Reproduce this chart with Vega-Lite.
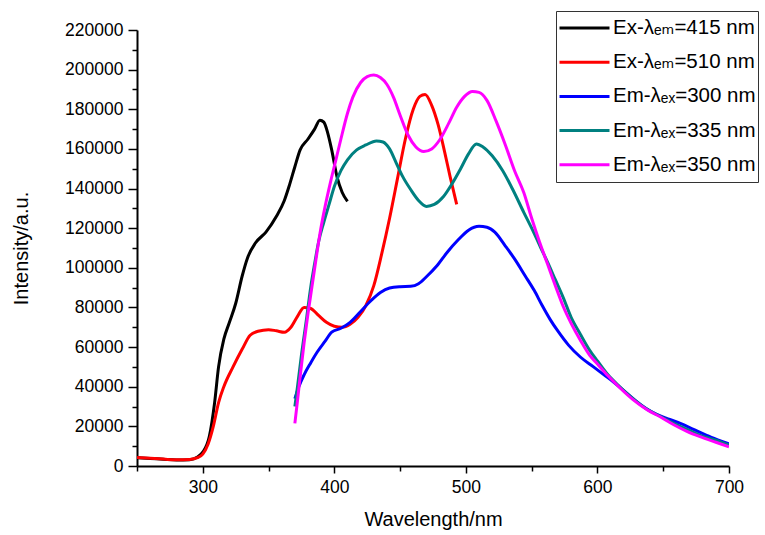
{
  "$schema": "https://vega.github.io/schema/vega-lite/v6.json",
  "width": 592,
  "height": 436,
  "autosize": {"type": "none"},
  "padding": {"left": 137, "top": 30, "right": 36, "bottom": 69},
  "background": "white",
  "config": {
    "view": {"stroke": null},
    "font": "Liberation Sans, Arial, DejaVu Sans, sans-serif"
  },
  "datasets": {
    "d": [
      {"s": "Ex-λₑₘ=415 nm", "w": 250, "v": 4200}, {"s": "Ex-λₑₘ=415 nm", "w": 260, "v": 3800}, {"s": "Ex-λₑₘ=415 nm", "w": 270, "v": 3400}, {"s": "Ex-λₑₘ=415 nm", "w": 280, "v": 3000}, {"s": "Ex-λₑₘ=415 nm", "w": 290, "v": 3200}, {"s": "Ex-λₑₘ=415 nm", "w": 296, "v": 4500}, {"s": "Ex-λₑₘ=415 nm", "w": 300, "v": 7000}, {"s": "Ex-λₑₘ=415 nm", "w": 305, "v": 15000}, {"s": "Ex-λₑₘ=415 nm", "w": 309, "v": 32000}, {"s": "Ex-λₑₘ=415 nm", "w": 312, "v": 50000}, {"s": "Ex-λₑₘ=415 nm", "w": 316, "v": 64000}, {"s": "Ex-λₑₘ=415 nm", "w": 320, "v": 72000}, {"s": "Ex-λₑₘ=415 nm", "w": 325, "v": 82000}, {"s": "Ex-λₑₘ=415 nm", "w": 330, "v": 96000}, {"s": "Ex-λₑₘ=415 nm", "w": 334, "v": 105000}, {"s": "Ex-λₑₘ=415 nm", "w": 340, "v": 112500}, {"s": "Ex-λₑₘ=415 nm", "w": 348, "v": 118000}, {"s": "Ex-λₑₘ=415 nm", "w": 356, "v": 126000}, {"s": "Ex-λₑₘ=415 nm", "w": 362, "v": 134000}, {"s": "Ex-λₑₘ=415 nm", "w": 366, "v": 142000}, {"s": "Ex-λₑₘ=415 nm", "w": 370, "v": 151000}, {"s": "Ex-λₑₘ=415 nm", "w": 374, "v": 159500}, {"s": "Ex-λₑₘ=415 nm", "w": 380, "v": 165000}, {"s": "Ex-λₑₘ=415 nm", "w": 385, "v": 170000}, {"s": "Ex-λₑₘ=415 nm", "w": 389, "v": 174500}, {"s": "Ex-λₑₘ=415 nm", "w": 392, "v": 173500}, {"s": "Ex-λₑₘ=415 nm", "w": 395, "v": 168000}, {"s": "Ex-λₑₘ=415 nm", "w": 398, "v": 159500}, {"s": "Ex-λₑₘ=415 nm", "w": 402, "v": 146000}, {"s": "Ex-λₑₘ=415 nm", "w": 406, "v": 138000}, {"s": "Ex-λₑₘ=415 nm", "w": 410, "v": 133500},

      {"s": "Ex-λₑₘ=510 nm", "w": 250, "v": 4300}, {"s": "Ex-λₑₘ=510 nm", "w": 260, "v": 3900}, {"s": "Ex-λₑₘ=510 nm", "w": 270, "v": 3500}, {"s": "Ex-λₑₘ=510 nm", "w": 280, "v": 3100}, {"s": "Ex-λₑₘ=510 nm", "w": 290, "v": 3300}, {"s": "Ex-λₑₘ=510 nm", "w": 296, "v": 4200}, {"s": "Ex-λₑₘ=510 nm", "w": 300, "v": 6000}, {"s": "Ex-λₑₘ=510 nm", "w": 304, "v": 11000}, {"s": "Ex-λₑₘ=510 nm", "w": 308, "v": 20000}, {"s": "Ex-λₑₘ=510 nm", "w": 312, "v": 32000}, {"s": "Ex-λₑₘ=510 nm", "w": 316, "v": 40000}, {"s": "Ex-λₑₘ=510 nm", "w": 323, "v": 50000}, {"s": "Ex-λₑₘ=510 nm", "w": 330, "v": 59000}, {"s": "Ex-λₑₘ=510 nm", "w": 336, "v": 66000}, {"s": "Ex-λₑₘ=510 nm", "w": 342, "v": 68000}, {"s": "Ex-λₑₘ=510 nm", "w": 350, "v": 68800}, {"s": "Ex-λₑₘ=510 nm", "w": 356, "v": 68200}, {"s": "Ex-λₑₘ=510 nm", "w": 362, "v": 67500}, {"s": "Ex-λₑₘ=510 nm", "w": 367, "v": 70000}, {"s": "Ex-λₑₘ=510 nm", "w": 372, "v": 75500}, {"s": "Ex-λₑₘ=510 nm", "w": 377, "v": 80000}, {"s": "Ex-λₑₘ=510 nm", "w": 382, "v": 79500}, {"s": "Ex-λₑₘ=510 nm", "w": 388, "v": 76000}, {"s": "Ex-λₑₘ=510 nm", "w": 394, "v": 72500}, {"s": "Ex-λₑₘ=510 nm", "w": 400, "v": 70500}, {"s": "Ex-λₑₘ=510 nm", "w": 406, "v": 70000}, {"s": "Ex-λₑₘ=510 nm", "w": 412, "v": 71500}, {"s": "Ex-λₑₘ=510 nm", "w": 418, "v": 75000}, {"s": "Ex-λₑₘ=510 nm", "w": 424, "v": 81000}, {"s": "Ex-λₑₘ=510 nm", "w": 430, "v": 91000}, {"s": "Ex-λₑₘ=510 nm", "w": 436, "v": 107000}, {"s": "Ex-λₑₘ=510 nm", "w": 442, "v": 125000}, {"s": "Ex-λₑₘ=510 nm", "w": 448, "v": 145000}, {"s": "Ex-λₑₘ=510 nm", "w": 454, "v": 165000}, {"s": "Ex-λₑₘ=510 nm", "w": 460, "v": 180000}, {"s": "Ex-λₑₘ=510 nm", "w": 465, "v": 186500}, {"s": "Ex-λₑₘ=510 nm", "w": 469, "v": 187500}, {"s": "Ex-λₑₘ=510 nm", "w": 474, "v": 182000}, {"s": "Ex-λₑₘ=510 nm", "w": 479, "v": 172000}, {"s": "Ex-λₑₘ=510 nm", "w": 484, "v": 158000}, {"s": "Ex-λₑₘ=510 nm", "w": 488, "v": 146000}, {"s": "Ex-λₑₘ=510 nm", "w": 493, "v": 132000},

      {"s": "Em-λₑₓ=300 nm", "w": 370, "v": 34000}, {"s": "Em-λₑₓ=300 nm", "w": 373, "v": 40000}, {"s": "Em-λₑₓ=300 nm", "w": 377, "v": 46000}, {"s": "Em-λₑₓ=300 nm", "w": 382, "v": 52000}, {"s": "Em-λₑₓ=300 nm", "w": 387, "v": 57500}, {"s": "Em-λₑₓ=300 nm", "w": 393, "v": 63000}, {"s": "Em-λₑₓ=300 nm", "w": 398, "v": 67500}, {"s": "Em-λₑₓ=300 nm", "w": 405, "v": 69500}, {"s": "Em-λₑₓ=300 nm", "w": 412, "v": 72500}, {"s": "Em-λₑₓ=300 nm", "w": 420, "v": 78000}, {"s": "Em-λₑₓ=300 nm", "w": 428, "v": 83500}, {"s": "Em-λₑₓ=300 nm", "w": 435, "v": 87500}, {"s": "Em-λₑₓ=300 nm", "w": 442, "v": 89800}, {"s": "Em-λₑₓ=300 nm", "w": 450, "v": 90500}, {"s": "Em-λₑₓ=300 nm", "w": 458, "v": 90700}, {"s": "Em-λₑₓ=300 nm", "w": 464, "v": 92000}, {"s": "Em-λₑₓ=300 nm", "w": 470, "v": 95500}, {"s": "Em-λₑₓ=300 nm", "w": 478, "v": 101000}, {"s": "Em-λₑₓ=300 nm", "w": 486, "v": 108000}, {"s": "Em-λₑₓ=300 nm", "w": 494, "v": 114000}, {"s": "Em-λₑₓ=300 nm", "w": 502, "v": 119000}, {"s": "Em-λₑₓ=300 nm", "w": 510, "v": 121000}, {"s": "Em-λₑₓ=300 nm", "w": 516, "v": 120500}, {"s": "Em-λₑₓ=300 nm", "w": 522, "v": 118000}, {"s": "Em-λₑₓ=300 nm", "w": 530, "v": 111000}, {"s": "Em-λₑₓ=300 nm", "w": 537, "v": 104500}, {"s": "Em-λₑₓ=300 nm", "w": 545, "v": 96000}, {"s": "Em-λₑₓ=300 nm", "w": 552, "v": 88500}, {"s": "Em-λₑₓ=300 nm", "w": 558, "v": 81000}, {"s": "Em-λₑₓ=300 nm", "w": 564, "v": 74000}, {"s": "Em-λₑₓ=300 nm", "w": 570, "v": 68000}, {"s": "Em-λₑₓ=300 nm", "w": 578, "v": 61000}, {"s": "Em-λₑₓ=300 nm", "w": 587, "v": 55000}, {"s": "Em-λₑₓ=300 nm", "w": 597, "v": 50000}, {"s": "Em-λₑₓ=300 nm", "w": 605, "v": 46000}, {"s": "Em-λₑₓ=300 nm", "w": 612, "v": 42500}, {"s": "Em-λₑₓ=300 nm", "w": 620, "v": 38000}, {"s": "Em-λₑₓ=300 nm", "w": 628, "v": 33500}, {"s": "Em-λₑₓ=300 nm", "w": 637, "v": 29000}, {"s": "Em-λₑₓ=300 nm", "w": 645, "v": 26000}, {"s": "Em-λₑₓ=300 nm", "w": 655, "v": 23500}, {"s": "Em-λₑₓ=300 nm", "w": 663, "v": 21500}, {"s": "Em-λₑₓ=300 nm", "w": 673, "v": 18500}, {"s": "Em-λₑₓ=300 nm", "w": 683, "v": 15500}, {"s": "Em-λₑₓ=300 nm", "w": 692, "v": 13000}, {"s": "Em-λₑₓ=300 nm", "w": 700, "v": 11200},

      {"s": "Em-λₑₓ=335 nm", "w": 370, "v": 30000}, {"s": "Em-λₑₓ=335 nm", "w": 372, "v": 40000}, {"s": "Em-λₑₓ=335 nm", "w": 375, "v": 56000}, {"s": "Em-λₑₓ=335 nm", "w": 379, "v": 75000}, {"s": "Em-λₑₓ=335 nm", "w": 382, "v": 90000}, {"s": "Em-λₑₓ=335 nm", "w": 385, "v": 102000}, {"s": "Em-λₑₓ=335 nm", "w": 388, "v": 113000}, {"s": "Em-λₑₓ=335 nm", "w": 392, "v": 123000}, {"s": "Em-λₑₓ=335 nm", "w": 396, "v": 132000}, {"s": "Em-λₑₓ=335 nm", "w": 400, "v": 141000}, {"s": "Em-λₑₓ=335 nm", "w": 405, "v": 149000}, {"s": "Em-λₑₓ=335 nm", "w": 410, "v": 154500}, {"s": "Em-λₑₓ=335 nm", "w": 417, "v": 159500}, {"s": "Em-λₑₓ=335 nm", "w": 424, "v": 162000}, {"s": "Em-λₑₓ=335 nm", "w": 432, "v": 164000}, {"s": "Em-λₑₓ=335 nm", "w": 437, "v": 163500}, {"s": "Em-λₑₓ=335 nm", "w": 442, "v": 160000}, {"s": "Em-λₑₓ=335 nm", "w": 447, "v": 153000}, {"s": "Em-λₑₓ=335 nm", "w": 452, "v": 146000}, {"s": "Em-λₑₓ=335 nm", "w": 458, "v": 139500}, {"s": "Em-λₑₓ=335 nm", "w": 464, "v": 134000}, {"s": "Em-λₑₓ=335 nm", "w": 470, "v": 131000}, {"s": "Em-λₑₓ=335 nm", "w": 476, "v": 132000}, {"s": "Em-λₑₓ=335 nm", "w": 483, "v": 136000}, {"s": "Em-λₑₓ=335 nm", "w": 490, "v": 143000}, {"s": "Em-λₑₓ=335 nm", "w": 496, "v": 150000}, {"s": "Em-λₑₓ=335 nm", "w": 502, "v": 157500}, {"s": "Em-λₑₓ=335 nm", "w": 508, "v": 162500}, {"s": "Em-λₑₓ=335 nm", "w": 513, "v": 161000}, {"s": "Em-λₑₓ=335 nm", "w": 520, "v": 156500}, {"s": "Em-λₑₓ=335 nm", "w": 528, "v": 149000}, {"s": "Em-λₑₓ=335 nm", "w": 536, "v": 139000}, {"s": "Em-λₑₓ=335 nm", "w": 544, "v": 128000}, {"s": "Em-λₑₓ=335 nm", "w": 550, "v": 120000}, {"s": "Em-λₑₓ=335 nm", "w": 557, "v": 110000}, {"s": "Em-λₑₓ=335 nm", "w": 562, "v": 103000}, {"s": "Em-λₑₓ=335 nm", "w": 568, "v": 94000}, {"s": "Em-λₑₓ=335 nm", "w": 574, "v": 85000}, {"s": "Em-λₑₓ=335 nm", "w": 580, "v": 75000}, {"s": "Em-λₑₓ=335 nm", "w": 587, "v": 66500}, {"s": "Em-λₑₓ=335 nm", "w": 594, "v": 58500}, {"s": "Em-λₑₓ=335 nm", "w": 600, "v": 53000}, {"s": "Em-λₑₓ=335 nm", "w": 608, "v": 46000}, {"s": "Em-λₑₓ=335 nm", "w": 617, "v": 40000}, {"s": "Em-λₑₓ=335 nm", "w": 627, "v": 34000}, {"s": "Em-λₑₓ=335 nm", "w": 638, "v": 28500}, {"s": "Em-λₑₓ=335 nm", "w": 648, "v": 25000}, {"s": "Em-λₑₓ=335 nm", "w": 658, "v": 21500}, {"s": "Em-λₑₓ=335 nm", "w": 668, "v": 18500}, {"s": "Em-λₑₓ=335 nm", "w": 678, "v": 15500}, {"s": "Em-λₑₓ=335 nm", "w": 690, "v": 13000}, {"s": "Em-λₑₓ=335 nm", "w": 700, "v": 10500},

      {"s": "Em-λₑₓ=350 nm", "w": 370, "v": 21500}, {"s": "Em-λₑₓ=350 nm", "w": 372, "v": 33000}, {"s": "Em-λₑₓ=350 nm", "w": 374, "v": 45000}, {"s": "Em-λₑₓ=350 nm", "w": 377, "v": 62000}, {"s": "Em-λₑₓ=350 nm", "w": 380, "v": 77000}, {"s": "Em-λₑₓ=350 nm", "w": 383, "v": 90500}, {"s": "Em-λₑₓ=350 nm", "w": 386, "v": 104000}, {"s": "Em-λₑₓ=350 nm", "w": 389, "v": 117000}, {"s": "Em-λₑₓ=350 nm", "w": 393, "v": 131000}, {"s": "Em-λₑₓ=350 nm", "w": 397, "v": 143000}, {"s": "Em-λₑₓ=350 nm", "w": 401, "v": 154000}, {"s": "Em-λₑₓ=350 nm", "w": 405, "v": 165000}, {"s": "Em-λₑₓ=350 nm", "w": 410, "v": 178000}, {"s": "Em-λₑₓ=350 nm", "w": 414, "v": 186000}, {"s": "Em-λₑₓ=350 nm", "w": 420, "v": 193500}, {"s": "Em-λₑₓ=350 nm", "w": 425, "v": 196500}, {"s": "Em-λₑₓ=350 nm", "w": 430, "v": 197300}, {"s": "Em-λₑₓ=350 nm", "w": 435, "v": 196000}, {"s": "Em-λₑₓ=350 nm", "w": 440, "v": 192500}, {"s": "Em-λₑₓ=350 nm", "w": 445, "v": 186000}, {"s": "Em-λₑₓ=350 nm", "w": 450, "v": 177000}, {"s": "Em-λₑₓ=350 nm", "w": 456, "v": 167000}, {"s": "Em-λₑₓ=350 nm", "w": 462, "v": 161000}, {"s": "Em-λₑₓ=350 nm", "w": 468, "v": 158700}, {"s": "Em-λₑₓ=350 nm", "w": 474, "v": 160000}, {"s": "Em-λₑₓ=350 nm", "w": 480, "v": 164500}, {"s": "Em-λₑₓ=350 nm", "w": 487, "v": 173000}, {"s": "Em-λₑₓ=350 nm", "w": 493, "v": 181000}, {"s": "Em-λₑₓ=350 nm", "w": 499, "v": 186500}, {"s": "Em-λₑₓ=350 nm", "w": 505, "v": 189000}, {"s": "Em-λₑₓ=350 nm", "w": 510, "v": 188500}, {"s": "Em-λₑₓ=350 nm", "w": 516, "v": 184500}, {"s": "Em-λₑₓ=350 nm", "w": 523, "v": 174000}, {"s": "Em-λₑₓ=350 nm", "w": 530, "v": 162000}, {"s": "Em-λₑₓ=350 nm", "w": 537, "v": 149000}, {"s": "Em-λₑₓ=350 nm", "w": 544, "v": 138000}, {"s": "Em-λₑₓ=350 nm", "w": 550, "v": 125000}, {"s": "Em-λₑₓ=350 nm", "w": 556, "v": 113000}, {"s": "Em-λₑₓ=350 nm", "w": 562, "v": 102000}, {"s": "Em-λₑₓ=350 nm", "w": 568, "v": 91000}, {"s": "Em-λₑₓ=350 nm", "w": 574, "v": 80500}, {"s": "Em-λₑₓ=350 nm", "w": 580, "v": 72000}, {"s": "Em-λₑₓ=350 nm", "w": 587, "v": 63500}, {"s": "Em-λₑₓ=350 nm", "w": 594, "v": 56000}, {"s": "Em-λₑₓ=350 nm", "w": 600, "v": 51500}, {"s": "Em-λₑₓ=350 nm", "w": 608, "v": 45500}, {"s": "Em-λₑₓ=350 nm", "w": 617, "v": 39500}, {"s": "Em-λₑₓ=350 nm", "w": 627, "v": 33500}, {"s": "Em-λₑₓ=350 nm", "w": 638, "v": 28300}, {"s": "Em-λₑₓ=350 nm", "w": 648, "v": 24700}, {"s": "Em-λₑₓ=350 nm", "w": 658, "v": 20800}, {"s": "Em-λₑₓ=350 nm", "w": 668, "v": 17500}, {"s": "Em-λₑₓ=350 nm", "w": 678, "v": 14800}, {"s": "Em-λₑₓ=350 nm", "w": 690, "v": 12000}, {"s": "Em-λₑₓ=350 nm", "w": 700, "v": 9700}
    ]
  },
  "data": {"name": "d"},
  "mark": {"type": "line", "strokeWidth": 3, "interpolate": "monotone", "clip": true},
  "encoding": {
    "x": {
      "field": "w", "type": "quantitative",
      "scale": {"domain": [250, 700], "nice": false, "zero": false},
      "axis": {
        "title": "Wavelength/nm",
        "values": [250, 300, 350, 400, 450, 500, 550, 600, 650, 700],
        "format": "d",
        "labelExpr": "datum.value % 100 === 0 ? datum.label : ''",
        "labelOverlap": false, "labelFlush": false,
        "grid": false,
        "domainColor": "black", "domainWidth": 2,
        "tickColor": "black", "tickWidth": 1.5,
        "tickSize": {"condition": {"test": "datum.value % 100 === 0", "value": 7}, "value": 5},
        "labelFontSize": 17.5, "labelColor": "black", "labelPadding": 5,
        "titleFontSize": 20, "titleFontWeight": "normal", "titleColor": "black", "titlePadding": 14
      }
    },
    "y": {
      "field": "v", "type": "quantitative",
      "scale": {"domain": [0, 220000], "nice": false},
      "axis": {
        "title": "Intensity/a.u.",
        "values": [0, 10000, 20000, 30000, 40000, 50000, 60000, 70000, 80000, 90000, 100000, 110000, 120000, 130000, 140000, 150000, 160000, 170000, 180000, 190000, 200000, 210000, 220000],
        "format": "d",
        "labelExpr": "datum.value % 20000 === 0 ? datum.label : ''",
        "labelOverlap": false, "labelFlush": false,
        "grid": false,
        "domainColor": "black", "domainWidth": 2,
        "tickColor": "black", "tickWidth": 1.5,
        "tickSize": {"condition": {"test": "datum.value % 20000 === 0", "value": 9}, "value": 5},
        "labelFontSize": 17.5, "labelColor": "black", "labelPadding": 5,
        "titleFontSize": 20, "titleFontWeight": "normal", "titleColor": "black", "titlePadding": 33
      }
    },
    "color": {
      "field": "s", "type": "nominal",
      "scale": {
        "domain": ["Ex-λₑₘ=415 nm", "Ex-λₑₘ=510 nm", "Em-λₑₓ=300 nm", "Em-λₑₓ=335 nm", "Em-λₑₓ=350 nm"],
        "range": ["#000000", "#FF0000", "#0000FF", "#008080", "#FF00FF"]
      },
      "legend": {
        "title": null,
        "orient": "none",
        "legendX": 419,
        "legendY": -19,
        "strokeColor": "#333333",
        "fillColor": "white",
        "padding": 2,
        "symbolType": "stroke",
        "symbolSize": 2500,
        "symbolStrokeWidth": 3,
        "labelFontSize": 20.5,
        "labelColor": "black",
        "labelOffset": 2,
        "labelLimit": 300,
        "clipHeight": 30,
        "rowPadding": 4.2
      }
    }
  }
}
